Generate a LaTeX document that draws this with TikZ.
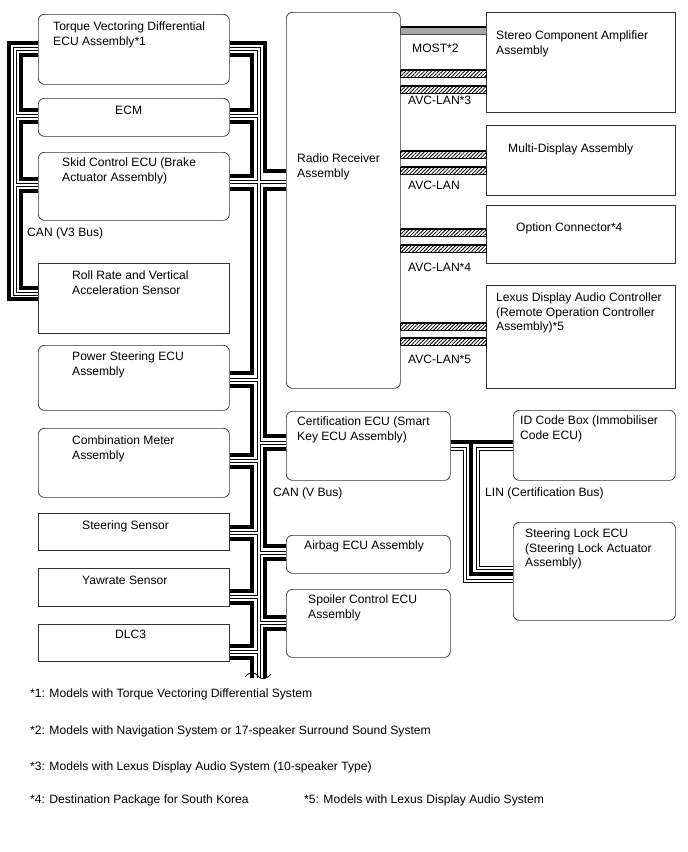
\documentclass[tikz,border=0pt]{standalone}
\usepackage{fontspec}
\setmainfont{Liberation Sans}
\usetikzlibrary{patterns, patterns.meta, calc}

\tikzset{
    ecu/.style={draw=black!80, line width=0.7pt, rounded corners=6pt, anchor=north west, inner sep=0pt},
    part/.style={draw=black!80, line width=0.7pt, anchor=north west, inner sep=0pt},
    txt/.style={anchor=north west, align=left, inner sep=0pt, font=\fontsize{12.1}{14.3}\selectfont},
    hwire/.style={line width=3.2pt, line join=miter},
    lwire/.style={double, double distance=2pt, line width=1pt, line join=miter},
    mostband/.style={fill=black!35, draw=black!70, line width=0.6pt},
    avcband/.style={pattern={Lines[angle=45, distance=2.6pt, line width=0.8pt]}, draw=black, line width=0.6pt},
}

\begin{document}
\begin{tikzpicture}[x=1pt, y=-1pt]
        \useasboundingbox (0,0) rectangle (688,852);
        % Bus columns
        \coordinate (vthreeO) at (9,0);
        \coordinate (vthreeD) at (15,0);
        \coordinate (vthreeI) at (21,0);
        \coordinate (vbusL) at (252,0);
        \coordinate (vbusC) at (258.5,0);
        \coordinate (vbusR) at (265,0);
        \coordinate (vend) at (0,678);
        % Left column of ECUs
        \node[ecu, minimum width=191pt, minimum height=70pt] (tvd) at (38,14) {};
        \node[ecu, minimum width=191pt, minimum height=38pt] (ecm) at (38,98) {};
        \node[ecu, minimum width=191pt, minimum height=68pt] (skid) at (38,152) {};
        \node[part, minimum width=191pt, minimum height=70pt] (roll) at (38,263) {};
        \node[ecu, minimum width=191pt, minimum height=65pt] (ps) at (38,345) {};
        \node[ecu, minimum width=191pt, minimum height=69pt] (cm) at (38,428) {};
        \node[part, minimum width=191pt, minimum height=37pt] (ss) at (38,513) {};
        \node[part, minimum width=191pt, minimum height=38pt] (yaw) at (38,568) {};
        \node[part, minimum width=191pt, minimum height=37pt] (dlc) at (38,624) {};
        % Middle column
        \node[ecu, minimum width=114pt, minimum height=376pt] (radio) at (286,12) {};
        \node[ecu, minimum width=164pt, minimum height=69pt] (cert) at (286,411) {};
        \node[ecu, minimum width=164pt, minimum height=38pt] (air) at (286,535) {};
        \node[ecu, minimum width=164pt, minimum height=68pt] (spoil) at (286,589) {};
        % Right column
        \node[part, minimum width=189pt, minimum height=100pt] (stereo) at (486,12) {};
        \node[part, minimum width=189pt, minimum height=70pt] (multi) at (486,125) {};
        \node[part, minimum width=189pt, minimum height=58pt] (option) at (486,205) {};
        \node[part, minimum width=189pt, minimum height=103pt] (lexus) at (486,285) {};
        \node[ecu, minimum width=162pt, minimum height=70pt] (idbox) at (513,410) {};
        \node[ecu, minimum width=162pt, minimum height=98pt] (slock) at (513,522) {};
        % Box texts
        \node[txt] (tvdtxt) at (53,22) {Torque Vectoring Differential\\ECU Assembly*1};
        \node[txt] (ecmtxt) at (115,106) {ECM};
        \node[txt] (skidtxt) at (62,158) {Skid Control ECU (Brake\\Actuator Assembly)};
        \node[txt] (rolltxt) at (72,271) {Roll Rate and Vertical\\Acceleration Sensor};
        \node[txt] (pstxt) at (72,352) {Power Steering ECU\\Assembly};
        \node[txt] (cmtxt) at (72,436) {Combination Meter\\Assembly};
        \node[txt] (sstxt) at (82,521) {Steering Sensor};
        \node[txt] (yawtxt) at (82,576) {Yawrate Sensor};
        \node[txt] (dlctxt) at (115,630) {DLC3};
        \node[txt] (radiotxt) at (297,154) {Radio Receiver\\Assembly};
        \node[txt] (certtxt) at (297,417) {Certification ECU (Smart\\Key ECU Assembly)};
        \node[txt] (airtxt) at (304,541) {Airbag ECU Assembly};
        \node[txt] (spoiltxt) at (308,595) {Spoiler Control ECU\\Assembly};
        \node[txt] (stereotxt) at (496,31) {Stereo Component Amplifier\\Assembly};
        \node[txt] (multitxt) at (508,144) {Multi-Display Assembly};
        \node[txt] (optiontxt) at (516,223) {Option Connector*4};
        \node[txt] (lexustxt) at (496,293) {Lexus Display Audio Controller\\(Remote Operation Controller\\Assembly)*5};
        \node[txt] (idboxtxt) at (520,416) {ID Code Box (Immobiliser\\Code ECU)};
        \node[txt] (slocktxt) at (525,529) {Steering Lock ECU\\(Steering Lock Actuator\\Assembly)};
        % Bus names
        \node[txt] (canvthree) at (27,228) {CAN (V3 Bus)};
        \node[txt] (canv) at (273,488) {CAN (V Bus)};
        \node[txt] (lin) at (485,488) {LIN (Certification Bus)};
        \node[txt] (mosttxt) at (412,44) {MOST*2};
        \node[txt] (avcthree) at (408,96) {AVC-LAN*3};
        \node[txt] (avcplain) at (408,181) {AVC-LAN};
        \node[txt] (avcfour) at (408,263) {AVC-LAN*4};
        \node[txt] (avcfive) at (408,355) {AVC-LAN*5};
        % CAN (V3 Bus), left side
        \draw[hwire] (tvd.west |- 0,43) -| (vthreeO |- 0,299) -- (roll.west |- 0,299);
        \foreach \a/\ya/\b/\yb in {tvd/55/ecm/110, ecm/122/skid/179, skid/191/roll/288}
            \draw[hwire] (\a.west |- 0,\ya) -| (vthreeI |- 0,\yb) -- (\b.west |- 0,\yb);
        \draw[lwire] (tvd.west |- 0,49) -| (vthreeD |- 0,294) -- (roll.west |- 0,294)
            (ecm.west |- 0,116) -- (vthreeD |- 0,116)
            (skid.west |- 0,185) -- (vthreeD |- 0,185);
        % CAN (V Bus), middle
        \draw[hwire] (tvd.east |- 0,43) -| (vbusR |- 0,171) -- (radio.west |- 0,171);
        \foreach \a/\ya/\b/\yb in {tvd/55/ecm/110, ecm/122/skid/176, skid/189/ps/373, ps/386/cm/455,
                                   cm/467/ss/527, ss/539/yaw/591, yaw/603/dlc/646}
            \draw[hwire] (\a.east |- 0,\ya) -| (vbusL |- 0,\yb) -- (\b.east |- 0,\yb);
        \draw[hwire] (dlc.east |- 0,658) -| (vbusL |- vend);
        \foreach \a/\ya/\b/\yb in {radio/189/cert/436, cert/449/air/546, air/559/spoil/617}
            \draw[hwire] (\a.west |- 0,\ya) -| (vbusR |- 0,\yb) -- (\b.west |- 0,\yb);
        \draw[hwire] (spoil.west |- 0,629) -| (vbusR |- vend);
        \draw[lwire] (tvd.east |- 0,49) -| (vbusC |- vend)
            (ecm.east |- 0,116) -- (vbusC |- 0,116)
            (skid.east |- 0,182) -- (radio.west |- 0,182)
            (ps.east |- 0,380) -- (vbusC |- 0,380)
            (cm.east |- 0,461) -- (vbusC |- 0,461)
            (ss.east |- 0,533) -- (vbusC |- 0,533)
            (yaw.east |- 0,597) -- (vbusC |- 0,597)
            (dlc.east |- 0,652) -- (vbusC |- 0,652)
            (cert.west |- 0,442.5) -- (vbusC |- 0,442.5)
            (air.west |- 0,552.5) -- (vbusC |- 0,552.5)
            (spoil.west |- 0,623) -- (vbusC |- 0,623);
        % Break mark at the bus end
        \draw[line width=0.8pt] (245,677) .. controls (250,671) and (255,672) .. (258,676)
            .. controls (261,680) and (266,680) .. (271,674);
        % LIN (Certification Bus)
        \draw[hwire] (cert.east |- 0,442) -- (idbox.west |- 0,442);
        \draw[hwire] (471,442) |- (slock.west |- 0,574);
        \draw[lwire] (cert.east |- 0,449) -| (464.5,580.5) -- (slock.west |- 0,580.5)
            (idbox.west |- 0,449) -| (477.5,567.5) -- (slock.west |- 0,567.5);
        % MOST
        \draw[mostband] (radio.east |- 0,27) rectangle (stereo.west |- 0,34);
        \draw[line width=1.3pt] (radio.east |- 0,27) -- (stereo.west |- 0,27);
        % AVC-LAN
        \foreach \tgt/\ya/\yb in {stereo/70/77, stereo/86/93, multi/151/158, multi/167/174,
                                  option/229/236, option/245/252, lexus/323/330, lexus/338/345} {
            \draw[avcband] (radio.east |- 0,\ya) rectangle (\tgt.west |- 0,\yb);
            \draw[line width=1.2pt] (radio.east |- 0,\ya) -- (\tgt.west |- 0,\ya);
        }
        % Footnotes
        \node[txt] (fnone) at (30,689) {*1: Models with Torque Vectoring Differential System};
        \node[txt] (fntwo) at (30,726) {*2: Models with Navigation System or 17-speaker Surround Sound System};
        \node[txt] (fnthree) at (30,762) {*3: Models with Lexus Display Audio System (10-speaker Type)};
        \node[txt] (fnfour) at (30,795) {*4: Destination Package for South Korea};
        \node[txt] (fnfive) at (304,795) {*5: Models with Lexus Display Audio System};
    \end{tikzpicture}
\end{document}
